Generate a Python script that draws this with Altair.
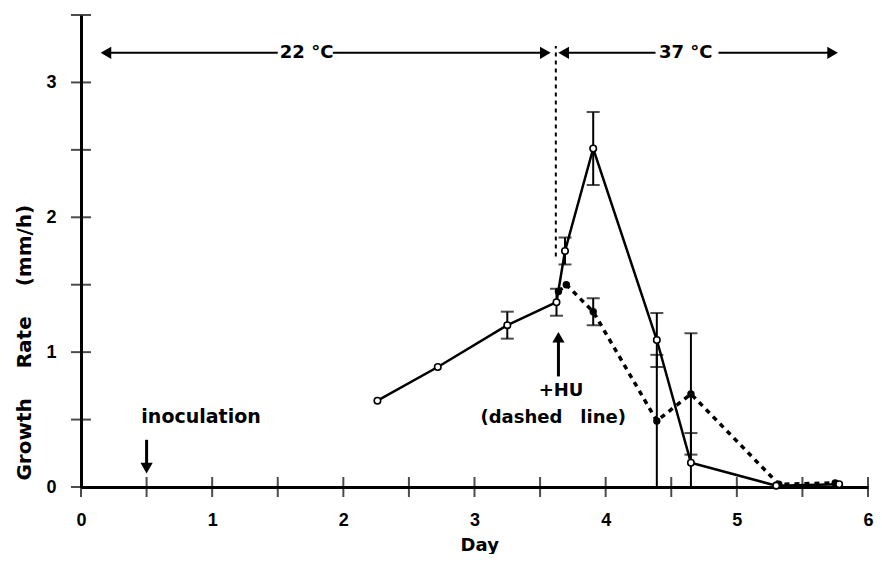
import altair as alt
import pandas as pd

# Open circles, solid line (no HU)
open_day = [2.26, 2.72, 3.25, 3.625, 3.69, 3.905, 4.39, 4.65, 5.30, 5.78]
open_rate = [0.64, 0.89, 1.20, 1.37, 1.75, 2.51, 1.09, 0.18, 0.01, 0.02]
open_err = [0, 0, 0.10, 0.10, 0.10, 0.27, 0.20, 0.22, 0, 0]

# Filled circles, dashed line (+HU)
hu_day = [3.64, 3.70, 3.905, 4.39, 4.65, 5.32, 5.75]
hu_rate = [1.45, 1.50, 1.30, 0.49, 0.69, 0.02, 0.03]
hu_err = [0, 0, 0.10, 0.49, 0.45, 0, 0]

x_ticks = [0, 0.5, 1, 1.5, 2, 2.5, 3, 3.5, 4, 4.5, 5, 5.5, 6]
y_ticks = [0, 0.5, 1, 1.5, 2, 2.5, 3, 3.5]
x_labels = [0, 1, 2, 3, 4, 5, 6]
y_labels = [0, 1, 2, 3]

# annotation geometry (data units)
seg_x1 = [0.19, 1.92, 3.68, 4.86]
seg_x2 = [1.50, 3.54, 4.38, 5.73]
seg_y1 = [3.22, 3.22, 3.22, 3.22]
seg_y2 = [3.22, 3.22, 3.22, 3.22]
vseg_x = [3.64, 0.5]
vseg_y1 = [0.82, 0.35]
vseg_y2 = [1.11, 0.14]
head_x = [0.19, 3.54, 3.68, 5.73, 3.64, 0.5]
head_y = [3.22, 3.22, 3.22, 3.22, 1.11, 0.14]
head_shape = ["triangle-left", "triangle-right", "triangle-left", "triangle-right", "triangle-up", "triangle-down"]

ann_text = ["22 °C", "37 °C", "inoculation", "+HU", "(dashed\u2002\u2002line)"]
ann_x = [1.72, 4.61, 0.46, 3.66, 3.60]
ann_y = [3.22, 3.22, 0.52, 0.71, 0.51]
ann_align = ["center", "center", "left", "center", "center"]

FONT = "DejaVu Sans"
NUMFONT = "Liberation Sans"

xs = alt.Scale(domain=[0, 6], nice=False, zero=False)
ys = alt.Scale(domain=[0, 3.5], nice=False)

open_df = pd.DataFrame({"day": open_day, "rate": open_rate, "err": open_err})
open_df["lo"] = (open_df["rate"] - open_df["err"]).clip(lower=0)
open_df["hi"] = open_df["rate"] + open_df["err"]
hu_df = pd.DataFrame({"day": hu_day, "rate": hu_rate, "err": hu_err})
hu_df["lo"] = (hu_df["rate"] - hu_df["err"]).clip(lower=0)
hu_df["hi"] = hu_df["rate"] + hu_df["err"]
open_e = open_df[open_df["err"] > 0]
hu_e = hu_df[hu_df["err"] > 0]

X = alt.X("day:Q", scale=xs,
          axis=alt.Axis(values=x_labels, ticks=False, grid=False, domainWidth=3, domainColor="black",
                        labelFont=NUMFONT, labelFontSize=18, labelFontWeight="bold", labelColor="black",
                        labelPadding=24, labelFlush=False, title=None, format="d"))
Y = alt.Y("rate:Q", scale=ys,
          axis=alt.Axis(values=y_labels, ticks=False, grid=False, domainWidth=3, domainColor="black",
                        labelFont=NUMFONT, labelFontSize=18, labelFontWeight="bold", labelColor="black",
                        labelPadding=25, labelFlush=False, title=None, format="d"))

base_open = alt.Chart(open_df)
base_hu = alt.Chart(hu_df)

open_line = base_open.mark_line(color="black", strokeWidth=2.5).encode(x=X, y=Y)
hu_line = base_hu.mark_line(color="black", strokeWidth=3.5, strokeDash=[5, 5]).encode(x="day:Q", y="rate:Q")

def errbars(df):
    b = alt.Chart(df)
    r = b.mark_rule(color="black", strokeWidth=2).encode(x="day:Q", y="lo:Q", y2="hi:Q")
    t1 = b.mark_tick(color="black", orient="horizontal", size=13, thickness=2).encode(x="day:Q", y="lo:Q")
    t2 = b.mark_tick(color="black", orient="horizontal", size=13, thickness=2).encode(x="day:Q", y="hi:Q")
    return r + t1 + t2

hu_pts = base_hu.mark_point(shape="circle", filled=True, color="black", size=55, opacity=1).encode(x="day:Q", y="rate:Q")
open_pts = base_open.mark_point(shape="circle", filled=True, fill="white", stroke="black",
                                strokeWidth=1.6, size=42, opacity=1).encode(x="day:Q", y="rate:Q")

xt = alt.Chart(pd.DataFrame({"t": x_ticks})).mark_tick(color="black", orient="vertical", size=20, thickness=2).encode(
    x="t:Q", y=alt.datum(0))
yt = alt.Chart(pd.DataFrame({"t": y_ticks})).mark_tick(color="black", orient="horizontal", size=20, thickness=2).encode(
    y="t:Q", x=alt.datum(0))

seg_df = pd.DataFrame({"x1": seg_x1, "x2": seg_x2, "y1": seg_y1, "y2": seg_y2})
segs = alt.Chart(seg_df).mark_rule(color="black", strokeWidth=2).encode(x="x1:Q", x2="x2:Q", y="y1:Q", y2="y2:Q")
vseg_df = pd.DataFrame({"x": vseg_x, "y1": vseg_y1, "y2": vseg_y2})
vsegs = alt.Chart(vseg_df).mark_rule(color="black", strokeWidth=3).encode(x="x:Q", y="y1:Q", y2="y2:Q")

head_df = pd.DataFrame({"x": head_x, "y": head_y, "s": head_shape})
heads = alt.Chart(head_df).mark_point(filled=True, color="black", size=150, opacity=1).encode(
    x="x:Q", y="y:Q", shape=alt.Shape("s:N", scale=None, legend=None))

vline = alt.Chart(pd.DataFrame({"x": [3.62], "y1": [1.71], "y2": [3.27]})).mark_rule(
    color="black", strokeWidth=2, strokeDash=[4, 4]).encode(x="x:Q", y="y1:Q", y2="y2:Q")

ann_df = pd.DataFrame({"text": ann_text, "x": ann_x, "y": ann_y, "align": ann_align})
ann_c = alt.Chart(ann_df[ann_df["align"] == "center"]).mark_text(
    font=FONT, fontSize=18, fontWeight="bold", color="black", align="center", baseline="middle").encode(
    x="x:Q", y="y:Q", text="text:N")
ann_l = alt.Chart(ann_df[ann_df["align"] == "left"]).mark_text(
    font=FONT, fontSize=19, fontWeight="bold", color="black", align="left", baseline="middle").encode(
    x="x:Q", y="y:Q", text="text:N")

ytitle = alt.Chart(pd.DataFrame({"text": ["Growth\u2003\u2002Rate\u2003\u2002(mm/h)"], "x": [-0.43], "y": [1.07]})).mark_text(
    font=FONT, fontSize=20, fontWeight="bold", color="black", angle=270, align="center", baseline="middle").encode(
    x="x:Q", y="y:Q", text="text:N")
xtitle = alt.Chart(pd.DataFrame({"text": ["Day"], "x": [3.04], "y": [-0.44]})).mark_text(
    font=FONT, fontSize=18, fontWeight="bold", color="black", align="center", baseline="middle").encode(
    x="x:Q", y="y:Q", text="text:N")

chart = alt.layer(
    open_line, hu_line, errbars(open_e), errbars(hu_e), xt, yt, segs, vsegs, heads, vline,
    hu_pts, open_pts, ann_c, ann_l, ytitle, xtitle
).properties(
    width=787, height=472,
    autosize=alt.AutoSizeParams(type="none"),
    padding={"left": 73, "top": 7, "right": 6, "bottom": 67},
    background="white",
).configure_view(stroke=None)

chart.save("out.html", embed_options={"renderer": "svg", "actions": False})
